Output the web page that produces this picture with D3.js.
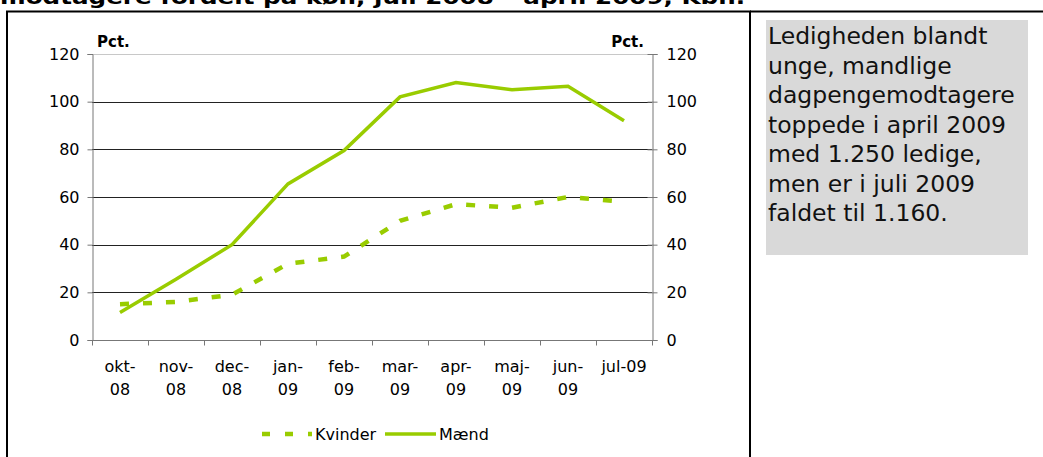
<!DOCTYPE html>
<html>
<head>
<meta charset="utf-8">
<script src="https://cdn.jsdelivr.net/npm/d3@7"></script>
<style>
  body { margin: 0; background: #fff; }
  svg { display: block; font-family: "DejaVu Sans", Verdana, sans-serif; }
</style>
</head>
<body>
<div id="chart"></div>
<script>
// data
var months = ["okt-08", "nov-08", "dec-08", "jan-09", "feb-09", "mar-09", "apr-09", "maj-09", "jun-09", "jul-09"];
var tickLines = [["okt-", "08"], ["nov-", "08"], ["dec-", "08"], ["jan-", "09"], ["feb-", "09"],
                 ["mar-", "09"], ["apr-", "09"], ["maj-", "09"], ["jun-", "09"], ["jul-09"]];
var kvinder = [15, 16, 19, 32, 35, 50, 57, 55.5, 60, 58];
var maend = [11.5, 25.5, 40, 65.5, 79.5, 102, 108, 105, 106.5, 92];
var yTicks = [0, 20, 40, 60, 80, 100, 120];
var seriesNames = ["Kvinder", "Mænd"];
var noteLines = ["Ledigheden blandt", "unge, mandlige", "dagpengemodtagere",
                 "toppede i april 2009", "med 1.250 ledige,", "men er i juli 2009", "faldet til 1.160."];
var title = "modtagere fordelt på køn, juli 2008 – april 2009, Kbh.";

var W = 1043, H = 457;
var green = "#99cc00";
var plot = {left: 92, right: 652, top: 54, bottom: 340};

var svg = d3.select("#chart").append("svg")
    .attr("width", W)
    .attr("height", H);

// cut-off title at the very top
svg.append("text")
    .attr("x", 0)
    .attr("y", 4)
    .attr("textLength", 745)
    .attr("lengthAdjust", "spacingAndGlyphs")
    .style("font-weight", "bold")
    .style("font-size", "20px")
    .text(title);

// frames
svg.append("path")
    .attr("d", "M7,457V11.5H750V457")
    .attr("fill", "none")
    .attr("stroke", "#000")
    .attr("stroke-width", 2);
svg.append("path")
    .attr("d", "M750,11.5H1043")
    .attr("stroke", "#000")
    .attr("stroke-width", 2);

var x = d3.scaleBand()
    .domain(months)
    .range([plot.left, plot.right]);

var y = d3.scaleLinear()
    .domain([0, 120])
    .range([plot.bottom, plot.top]);

// gridlines
svg.append("g")
    .selectAll("line")
    .data(yTicks.filter(function (d) { return d > 0; }))
    .enter().append("line")
    .attr("x1", plot.left)
    .attr("x2", plot.right)
    .attr("y1", function (d) { return Math.round(y(d)) + 0.5; })
    .attr("y2", function (d) { return Math.round(y(d)) + 0.5; })
    .attr("stroke", function (d) { return d === 120 ? "#c8c8c8" : "#222"; })
    .attr("stroke-width", 1);

// left axis
var yAxisL = svg.append("g")
    .attr("transform", "translate(" + (plot.left + 0.5) + ",0)")
    .call(d3.axisLeft(y).tickValues(yTicks).tickSize(5).tickPadding(8));
yAxisL.selectAll("text").style("font-size", "16px").style("font-family", "DejaVu Sans").attr("fill", "#000");
yAxisL.selectAll("line, path").attr("stroke", "#777");

// right axis, ticks cross the line
var yAxisR = svg.append("g")
    .attr("transform", "translate(" + (plot.right + 0.5) + ",0)")
    .call(d3.axisRight(y).tickValues(yTicks).tickSize(5).tickPadding(9));
yAxisR.selectAll(".tick line").attr("x1", -5);
yAxisR.selectAll("text").style("font-size", "16px").style("font-family", "DejaVu Sans").attr("fill", "#000");
yAxisR.selectAll("line, path").attr("stroke", "#777");

// x axis with ticks between categories
var xAxis = svg.append("g")
    .attr("transform", "translate(0," + (plot.bottom + 0.5) + ")");
xAxis.append("line")
    .attr("x1", plot.left)
    .attr("x2", plot.right)
    .attr("stroke", "#777");
xAxis.selectAll(".tk")
    .data(months.concat(["end"]))
    .enter().append("line")
    .attr("class", "tk")
    .attr("x1", function (d, i) { return Math.round(plot.left + i * x.bandwidth()) + 0.5; })
    .attr("x2", function (d, i) { return Math.round(plot.left + i * x.bandwidth()) + 0.5; })
    .attr("y1", 0)
    .attr("y2", 5)
    .attr("stroke", "#777");

var xLab = svg.append("g").selectAll("text")
    .data(months)
    .enter().append("text")
    .attr("x", function (d) { return x(d) + x.bandwidth() / 2; })
    .attr("y", 372)
    .attr("text-anchor", "middle")
    .style("font-size", "16px");
xLab.selectAll("tspan")
    .data(function (d, i) { return tickLines[i]; })
    .enter().append("tspan")
    .attr("x", function () { return d3.select(this.parentNode).attr("x"); })
    .attr("dy", function (d, i) { return i === 0 ? 0 : 23; })
    .text(function (d) { return d; });

// axis titles
svg.append("text")
    .attr("x", 97).attr("y", 47)
    .style("font-weight", "bold").style("font-size", "15px")
    .text("Pct.");
svg.append("text")
    .attr("x", 644).attr("y", 47)
    .attr("text-anchor", "end")
    .style("font-weight", "bold").style("font-size", "15px")
    .text("Pct.");

// lines
var cx = function (d, i) { return x(months[i]) + x.bandwidth() / 2; };
var line = d3.line()
    .x(cx)
    .y(function (d) { return y(d); });

svg.append("path")
    .datum(kvinder)
    .attr("d", line)
    .attr("fill", "none")
    .attr("stroke", green)
    .attr("stroke-width", 4.5)
    .attr("stroke-dasharray", "9,14");

svg.append("path")
    .datum(maend)
    .attr("d", line)
    .attr("fill", "none")
    .attr("stroke", green)
    .attr("stroke-width", 3.5);

// legend
var ly = 434;
svg.append("line")
    .attr("x1", 262).attr("x2", 312)
    .attr("y1", ly).attr("y2", ly)
    .attr("stroke", green).attr("stroke-width", 4.5)
    .attr("stroke-dasharray", "8,15");
svg.append("text")
    .attr("x", 315).attr("y", ly + 6)
    .style("font-size", "16px")
    .text(seriesNames[0]);
svg.append("line")
    .attr("x1", 385).attr("x2", 436)
    .attr("y1", ly).attr("y2", ly)
    .attr("stroke", green).attr("stroke-width", 3.5);
svg.append("text")
    .attr("x", 439).attr("y", ly + 6)
    .style("font-size", "16px")
    .text(seriesNames[1]);

// note box on the right
svg.append("rect")
    .attr("x", 766).attr("y", 20)
    .attr("width", 262).attr("height", 235)
    .attr("fill", "#d9d9d9");
svg.append("g").selectAll("text")
    .data(noteLines)
    .enter().append("text")
    .attr("x", 768)
    .attr("y", function (d, i) { return 44 + i * 29.5; })
    .style("font-size", "23.5px")
    .attr("fill", "#111")
    .text(function (d) { return d; });
</script>
</body>
</html>
